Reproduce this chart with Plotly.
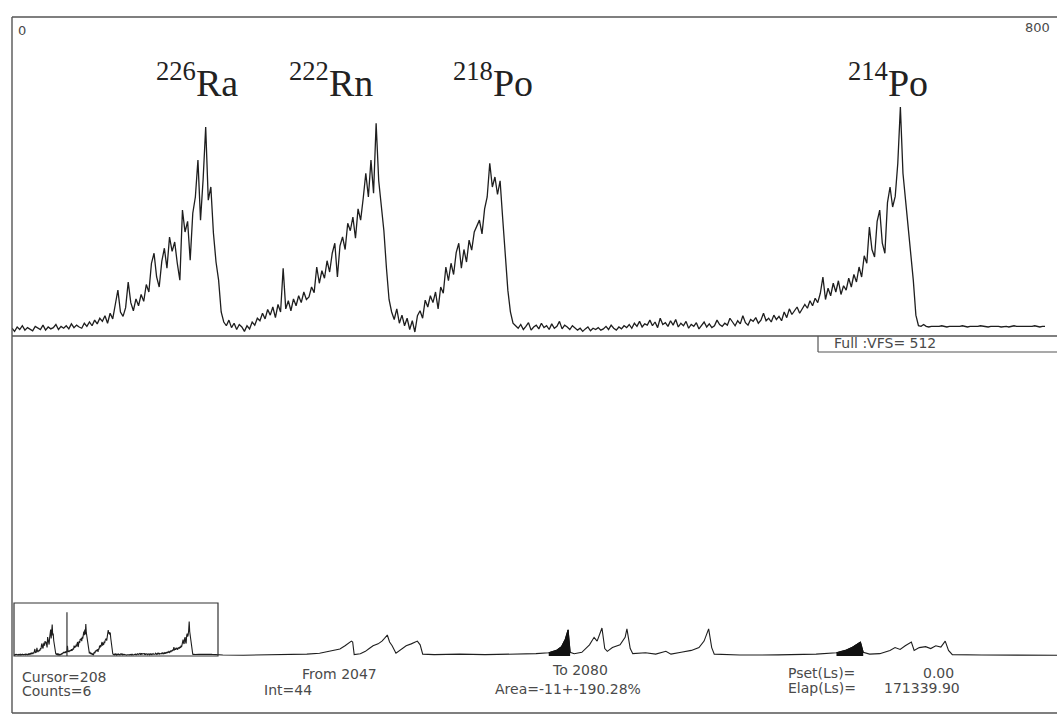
import numpy as np
import plotly.graph_objects as go

W, H = 1057, 716

# ---------------- top spectrum (channels 0..800, every 2 channels) ----------------
counts_low = [14, 9, 16, 12, 18, 11, 15, 13, 10, 17, 14, 12, 19, 11, 16, 13, 15, 20, 12, 17,
              14, 18, 13, 21, 15, 19, 16, 14, 22, 17,
              24, 18, 27, 21, 30, 25, 34, 22, 38, 29, 52, 75, 40, 33, 47, 88, 55, 42, 61, 50]
counts_ra = [68, 57, 84, 72, 118, 134, 96, 80, 121, 142, 110, 160, 137, 152, 118, 91, 203, 168,
             185, 123, 198, 224, 283, 187, 252, 336, 219, 240, 166, 120, 91, 40]
counts_gap1 = [24, 18, 27, 15, 22, 12, 20, 16, 9, 18, 13, 24, 19,
               30, 26, 38, 29, 44, 35, 48, 31, 52, 40, 110, 45, 58, 42, 61, 50, 66, 55, 72, 60]
counts_rn = [64, 80, 71, 112, 86, 106, 94, 122, 104, 134, 150, 96, 146, 160, 140, 182, 170, 192,
             158, 205, 187, 222, 262, 224, 283, 230, 342, 250, 215, 170, 110, 60, 40]
counts_gap2 = [28, 45, 22, 35, 18, 30, 12, 26, 8, 34, 42, 30]
counts_po218 = [59, 48, 66, 55, 72, 45, 80, 70, 112, 90, 118, 100, 135, 150, 110, 140, 120, 155,
                139, 168, 178, 187, 165, 205, 224, 278, 240, 256, 228, 250, 190, 130, 75, 40, 22, 18]
counts_mid = [14, 20, 12, 17, 23, 11, 16, 19, 13, 22, 15, 18, 12, 21, 14, 17, 25, 13, 19, 16,
              12, 18, 15, 11, 14, 9, 13, 16, 10, 14, 12, 15, 11, 13, 17, 12, 19, 14, 11, 16,
              13, 18, 15, 20, 14, 22, 17, 25, 16, 21, 19, 27, 18, 24, 15, 30, 20, 23, 17, 26,
              19, 28, 16, 22, 18, 25, 14, 20, 17, 23, 13, 19, 24, 16, 21, 15, 18, 27, 20, 17,
              22, 19, 30, 24, 18, 26, 21, 34, 23, 19, 28, 25, 31, 22, 27, 38, 26, 30, 24, 35,
              28, 33, 26, 40, 31, 45, 36, 42, 48, 38]
counts_po214 = [44, 52, 46, 58, 50, 62, 55, 70, 96, 60, 78, 66, 86, 72, 90, 68, 82, 75, 94, 80,
                100, 88, 112, 96, 130, 118, 176, 140, 128, 185, 203, 150, 134, 215, 240, 208, 225,
                278, 368, 262, 219, 179, 134, 91, 35, 18]
counts_tail = [17, 20, 17, 16, 17, 17, 16, 17, 18, 17, 16, 17, 17, 16, 17, 17, 18, 17, 16, 17,
               17, 16, 17, 18, 17, 17, 16, 17, 17, 18, 17, 16, 17, 17, 16, 17, 18, 17, 17, 16,
               17, 17, 16, 17, 18, 17, 16, 17, 17]

top_counts = (counts_low + counts_ra + counts_gap1 + counts_rn + counts_gap2 +
              counts_po218 + counts_mid + counts_po214 + counts_tail)
top_channels = list(range(0, 2 * len(top_counts), 2))

# ---------------- overview spectrum beyond channel 800 (0..4096) ----------------
ov_channels = [820, 900, 1000, 1100, 1150, 1200, 1230, 1260, 1280, 1300, 1315, 1325, 1330, 1336,
               1360, 1380, 1395, 1410, 1430, 1445, 1455, 1466, 1475, 1485, 1500, 1525, 1540, 1560,
               1575, 1584, 1595, 1605, 1650, 1750, 1850, 1950, 2050, 2100, 2130, 2150, 2165, 2176,
               2184, 2200, 2230, 2260, 2278, 2290, 2309, 2320, 2330, 2350, 2380, 2400, 2407, 2420,
               2430, 2480, 2520, 2560, 2580, 2620, 2660, 2690, 2710, 2728, 2740, 2750, 2850, 3000,
               3150, 3230, 3265, 3290, 3310, 3324, 3335, 3360, 3400, 3440, 3460, 3480, 3500, 3524,
               3535, 3555, 3580, 3600, 3620, 3640, 3657, 3670, 3685, 3800, 4096]
ov_counts = [10, 8, 12, 15, 20, 30, 45, 60, 75, 110, 140, 160, 150, 15,
             25, 50, 80, 110, 130, 160, 190, 225, 150, 110, 30, 80, 110, 130,
             150, 160, 120, 20, 15, 20, 15, 18, 25, 35, 60, 100, 180, 280,
             40, 25, 40, 120, 200, 160, 300, 80, 50, 90, 120, 200, 290, 80,
             25, 35, 20, 50, 20, 40, 60, 90, 160, 290, 90, 20, 10, 12,
             20, 35, 60, 90, 120, 150, 40, 20, 25, 60, 90, 70, 110, 150,
             60, 90, 100, 80, 110, 95, 160, 60, 15, 10, 8]
filled_ranges = [(2100, 2184), (3230, 3335)]
cursor_channel = 208
cursor_height = 470

isotope_labels = ["<sup>226</sup>Ra", "<sup>222</sup>Rn", "<sup>218</sup>Po", "<sup>214</sup>Po"]
isotope_px = [197, 331, 493, 888]

info_texts = [("Cursor=208", 20, 677, "left"), ("Counts=6", 20, 691, "left"),
              ("From 2047", 300, 674, "left"), ("Int=44", 262, 690, "left"),
              ("To 2080", 550, 670, "left"), ("Area=-11+-190.28%", 493, 689, "left"),
              ("Pset(Ls)=", 786, 673, "left"), ("0.00", 956, 673, "right"),
              ("Elap(Ls)=", 786, 688, "left"), ("171339.90", 962, 688, "right"),
              ("Full :VFS= 512", 832, 343, "left")]
corner_texts = [("0", 16, 30, "left"), ("800", 1052, 27, "right")]


def px(x):
    return x / W


def py(y):
    return 1 - y / H


LINE = "#1e1e1e"
FRAME = "#555555"
TXT = "#4a4a4a"

fig = go.Figure()

fig.add_trace(go.Scatter(x=top_channels, y=top_counts, mode="lines",
                         line=dict(color=LINE, width=1.3), xaxis="x", yaxis="y",
                         hoverinfo="skip", showlegend=False))

all_ch = top_channels + ov_channels
all_ct = top_counts + ov_counts
fig.add_trace(go.Scatter(x=all_ch, y=all_ct, mode="lines",
                         line=dict(color=LINE, width=1.1), xaxis="x2", yaxis="y2",
                         hoverinfo="skip", showlegend=False))
for lo, hi in filled_ranges:
    xs = [c for c in ov_channels if lo <= c <= hi]
    ys = [v for c, v in zip(ov_channels, ov_counts) if lo <= c <= hi]
    fig.add_trace(go.Scatter(x=xs, y=ys, mode="lines", fill="tozeroy",
                             fillcolor="#111111", line=dict(color="#111111", width=1),
                             xaxis="x2", yaxis="y2", hoverinfo="skip", showlegend=False))

shapes = []


def seg(x0, y0, x1, y1, w=1.4):
    shapes.append(dict(type="line", xref="paper", yref="paper",
                       x0=px(x0), y0=py(y0), x1=px(x1), y1=py(y1),
                       line=dict(color=FRAME, width=w)))


seg(12, 17, 1057, 17)
seg(12, 17, 12, 713)
seg(12, 713, 1057, 713)
seg(12, 336, 1057, 336)
seg(818, 336, 818, 352, 1.2)
seg(818, 352, 1057, 352, 1.2)
shapes.append(dict(type="rect", xref="paper", yref="paper",
                   x0=px(14), y0=py(656), x1=px(218), y1=py(603),
                   line=dict(color="#333333", width=1.2)))
shapes.append(dict(type="line", xref="x2", yref="y2", x0=cursor_channel, x1=cursor_channel,
                   y0=0, y1=cursor_height, line=dict(color="#333333", width=1.2)))

annotations = []
for lab, xc in zip(isotope_labels, isotope_px):
    annotations.append(dict(text=lab, x=px(xc), y=py(80), xref="paper", yref="paper",
                            xanchor="center", yanchor="middle", showarrow=False,
                            font=dict(family="Liberation Serif", size=38, color="#222222")))
for t, x, y, anc in info_texts:
    annotations.append(dict(text=t, x=px(x), y=py(y), xref="paper", yref="paper",
                            xanchor=anc, yanchor="middle", showarrow=False,
                            font=dict(family="DejaVu Sans", size=14, color=TXT)))
for t, x, y, anc in corner_texts:
    annotations.append(dict(text=t, x=px(x), y=py(y), xref="paper", yref="paper",
                            xanchor=anc, yanchor="middle", showarrow=False,
                            font=dict(family="DejaVu Sans", size=13, color=TXT)))

axis_off = dict(visible=False, showgrid=False, zeroline=False, fixedrange=True)
fig.update_layout(
    width=W, height=H, margin=dict(l=0, r=0, t=0, b=0),
    paper_bgcolor="white", plot_bgcolor="white",
    xaxis=dict(axis_off, range=[0, 800], domain=[px(12), px(1045)]),
    yaxis=dict(axis_off, range=[0, 512], domain=[py(337), py(17)]),
    xaxis2=dict(axis_off, range=[0, 4096], domain=[px(14), 1.0], anchor="y2"),
    yaxis2=dict(axis_off, range=[0, 600], domain=[py(656), py(600)], anchor="x2"),
    shapes=shapes, annotations=annotations, showlegend=False,
)

fig.write_html("out.html", config={"displayModeBar": False},
               post_script="document.body.style.margin='0';document.body.style.overflow='hidden';")
